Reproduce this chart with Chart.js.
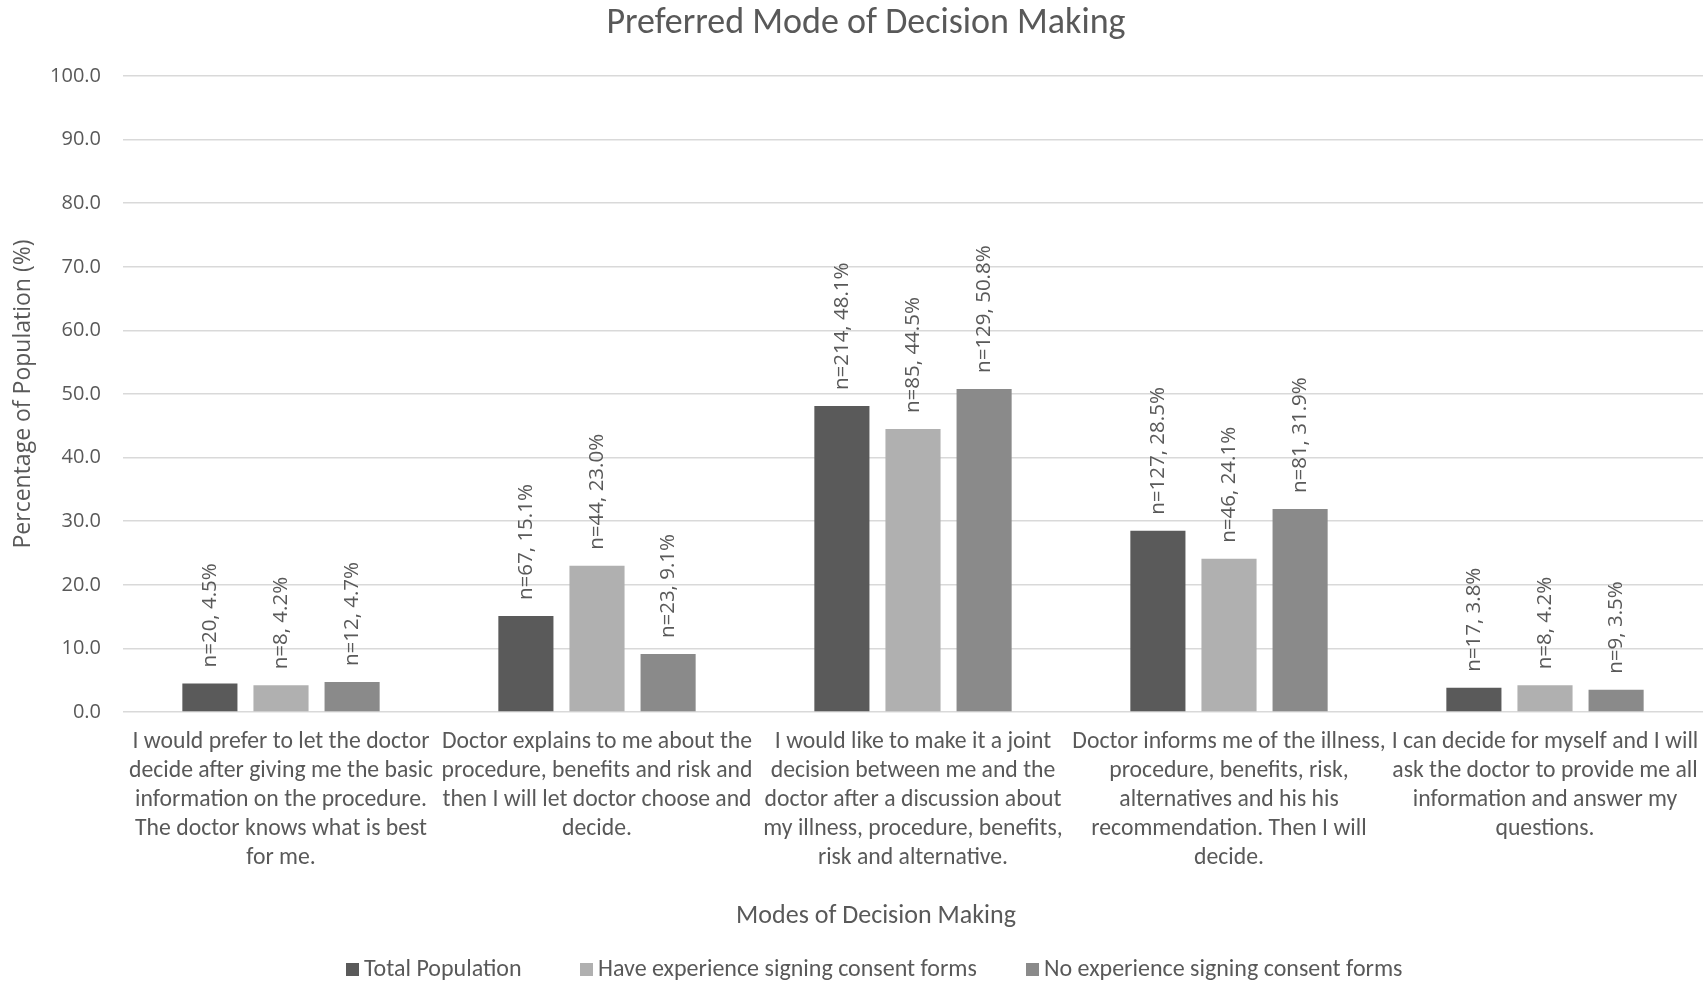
<!DOCTYPE html>
<html>
<head>
<meta charset="utf-8">
<script src="https://cdn.jsdelivr.net/npm/chart.js@4/dist/chart.umd.min.js"></script>
<style>
    html, body { margin: 0; padding: 0; background: #ffffff; }
    #wrap { width: 1704px; height: 984px; position: relative; }
</style>
</head>
<body>
<div id="wrap"><canvas id="chart"></canvas></div>
<script>
// categories (multi-line labels as in the original)
const categories = [
    ["I would prefer to let the doctor", "decide after giving me the basic", "information on the procedure.", "The doctor knows what is best", "for me."],
    ["Doctor explains to me about the", "procedure, benefits and risk and", "then I will let doctor choose and", "decide."],
    ["I would like to make it a joint", "decision between me and the", "doctor after a discussion about", "my illness, procedure, benefits,", "risk and alternative."],
    ["Doctor informs me of the illness,", "procedure, benefits, risk,", "alternatives and his his", "recommendation. Then I will", "decide."],
    ["I can decide for myself and I will", "ask the doctor to provide me all", "information and answer my", "questions."]
];

const seriesNames = ["Total Population", "Have experience signing consent forms", "No experience signing consent forms"];

const totalPct = [4.5, 15.1, 48.1, 28.5, 3.8];
const havePct = [4.2, 23.0, 44.5, 24.1, 4.2];
const noPct = [4.7, 9.1, 50.8, 31.9, 3.5];

const totalN = [20, 67, 214, 127, 17];
const haveN = [8, 44, 85, 46, 8];
const noN = [12, 23, 129, 81, 9];

const yTicks = [0, 10, 20, 30, 40, 50, 60, 70, 80, 90, 100];

const TEXT = "#595959";
const CALIBRI = "Carlito, 'Liberation Sans Narrow', 'Open Sans', sans-serif";
const SANS = "'Open Sans', 'Noto Sans', sans-serif";

// rotated "n=.., x%" labels above each bar
const barLabels = {
    id: "barLabels",
    afterDatasetsDraw(chart) {
        const ctx = chart.ctx;
        const counts = [totalN, haveN, noN];
        ctx.save();
        ctx.fillStyle = TEXT;
        ctx.font = "20.5px " + SANS;
        ctx.textAlign = "left";
        ctx.textBaseline = "middle";
        chart.data.datasets.forEach((ds, di) => {
            const meta = chart.getDatasetMeta(di);
            meta.data.forEach((bar, i) => {
                const txt = "n=" + counts[di][i] + ", " + ds.data[i].toFixed(1) + "%";
                ctx.save();
                ctx.translate(bar.x, bar.y - 16);
                ctx.rotate(-Math.PI / 2);
                ctx.fillText(txt, 0, 0);
                ctx.restore();
            });
        });
        ctx.restore();
    }
};

// title, x axis title and legend, placed like the original
const decorations = {
    id: "decorations",
    afterDraw(chart) {
        const ctx = chart.ctx;
        ctx.save();
        ctx.fillStyle = TEXT;
        ctx.textBaseline = "middle";
        ctx.textAlign = "center";
        ctx.font = "36px " + CALIBRI;
        ctx.fillText("Preferred Mode of Decision Making", 866, 24);
        ctx.font = "26px " + CALIBRI;
        ctx.fillText("Modes of Decision Making", 876, 916);

        // legend
        ctx.font = "24px " + CALIBRI;
        ctx.textAlign = "left";
        const legendX = [346, 580, 1026];
        chart.data.datasets.forEach((ds, di) => {
            ctx.fillStyle = ds.backgroundColor;
            ctx.fillRect(legendX[di], 963, 13, 13);
            ctx.fillStyle = TEXT;
            ctx.fillText(ds.label, legendX[di] + 18, 970);
        });
        ctx.restore();
    }
};

const ctx = document.getElementById("chart").getContext("2d");

new Chart(ctx, {
    type: "bar",
    data: {
        labels: categories,
        datasets: [
            { label: seriesNames[0], data: totalPct, backgroundColor: "#5a5a5a" },
            { label: seriesNames[1], data: havePct, backgroundColor: "#b0b0b0" },
            { label: seriesNames[2], data: noPct, backgroundColor: "#8a8a8a" },
        ],
    },
    options: {
        responsive: true,
        maintainAspectRatio: false,
        animation: false,
        devicePixelRatio: 1,
        layout: {
            padding: { top: 76, left: 0, right: 1, bottom: 44 },
        },
        datasets: {
            bar: {
                categoryPercentage: 0.675,
                barPercentage: 0.775,
            },
        },
        plugins: {
            legend: { display: false },
            title: { display: false },
            tooltip: { enabled: false },
        },
        scales: {
            x: {
                grid: { display: false, drawTicks: false },
                border: { display: false },
                ticks: {
                    color: TEXT,
                    padding: 16,
                    maxRotation: 0,
                    autoSkip: false,
                    font: { family: CALIBRI, size: 23.7, lineHeight: 1.215 },
                },
                afterFit(scale) {
                    scale.height = 228;
                    scale.paddingLeft = 0;
                    scale.paddingRight = 0;
                },
            },
            y: {
                min: 0,
                max: 100,
                afterBuildTicks(scale) {
                    scale.ticks = yTicks.map(v => ({ value: v }));
                },
                grid: { color: "#d9d9d9", lineWidth: 1.5, drawTicks: false },
                border: { display: false },
                ticks: {
                    color: TEXT,
                    padding: 22,
                    font: { family: SANS, size: 20 },
                    callback: v => Number(v).toFixed(1),
                },
                title: {
                    display: true,
                    text: "Percentage of Population (%)",
                    color: TEXT,
                    font: { family: SANS, size: 23 },
                    padding: { top: 10, bottom: 0 },
                },
                afterFit(scale) {
                    scale.width = 123;
                },
            },
        },
    },
    plugins: [barLabels, decorations],
});
</script>
</body>
</html>
